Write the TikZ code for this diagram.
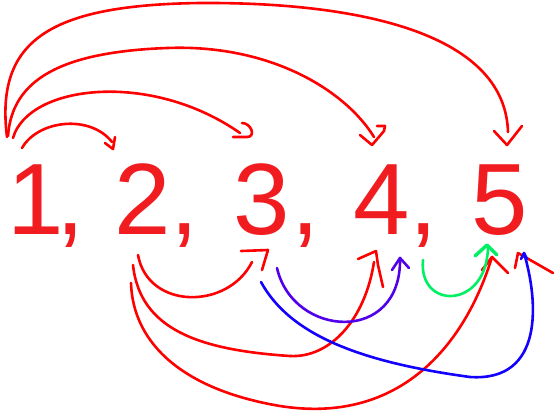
\documentclass[tikz,border=0pt]{standalone}
\usepackage{fontspec}
\setmainfont{Liberation Sans}
\usetikzlibrary{calc}

\definecolor{numred}{RGB}{240,28,32}
\definecolor{penred}{RGB}{255,0,0}
\definecolor{penblue}{RGB}{20,0,255}
\definecolor{penviolet}{RGB}{80,0,235}
\definecolor{pengreen}{RGB}{0,240,100}

\begin{document}
\begin{tikzpicture}[
  x=1pt, y=-1pt,
  num/.style={anchor=base west, inner sep=0pt, text=numred,
              font=\fontsize{101.4}{110}\selectfont},
  pen/.style={line width=2.6pt, line cap=round, line join=round},
  redpen/.style={pen, draw=penred},
  bluepen/.style={pen, draw=penblue},
  violetpen/.style={pen, draw=penviolet},
  greenpen/.style={pen, draw=pengreen}
]
\useasboundingbox (0,0) rectangle (554,416);

% --- The numbers ---
\node[num] (n1) at (7,234) {1};
\node[num] (c1) at (56,234) {,};
\node[num] (n2) at (114,234) {2};
\node[num] (c2) at (170,234) {,};
\node[num] (n3) at (233,234) {3};
\node[num] (c3) at (291,234) {,};
\node[num] (n4) at (353,234) {4};
\node[num] (c4) at (409,234) {,};
\node[num] (n5) at (471,234) {5};

% --- End points of the strokes ---
\coordinate (s12) at (22,148);  \coordinate (e12) at (112,142); \coordinate (k12) at (113,149);
\coordinate (s13) at (13,138);  \coordinate (e13) at (240,133); \coordinate (k13) at (247,137);
\coordinate (s14) at (8,136);   \coordinate (e14) at (374,137); \coordinate (k14) at (372,145);
\coordinate (s15) at (7,137);   \coordinate (e15) at (508,132); \coordinate (k15) at (507,145);
\coordinate (s23) at (138,255); \coordinate (e23) at (252,262); \coordinate (k23) at (268,250);
\coordinate (s24) at (133,265); \coordinate (e24) at (374,262); \coordinate (k24) at (376,251);
\coordinate (s25) at (131,283); \coordinate (k25) at (492,257);
\coordinate (s34) at (277,268); \coordinate (k34) at (400,258);
\coordinate (s35) at (261,282); \coordinate (k35) at (524,253);
\coordinate (s45) at (423,260); \coordinate (e45) at (488,247); \coordinate (k45) at (487,245);
\coordinate (kx) at (518,253);

% --- From 1, over the top ---
\draw[redpen] (s12) .. controls (38,120) and (90,114) .. (e12);
\draw[redpen] ($(k12)+(-8,-6)$) -- (k12) -- ($(k12)+(2,-12)$);

\draw[redpen] (s13) .. controls (28,85) and (150,70) .. (e13);
\draw[redpen] ($(k13)+(-14,0)$) -- (k13) to[out=0, in=0, looseness=1.6] ($(k13)+(-5,-14)$);

\draw[redpen] (s14) .. controls (12,80) and (60,52) .. (167,48)
  .. controls (270,44) and (345,90) .. (e14);
\draw[redpen] ($(k14)+(-12,-10)$) -- (k14) -- ($(k14)+(12,-14)$)
  -- ($(k14)+(13,-19)$) -- ($(k14)+(5,-19)$);

\draw[redpen] (s15) .. controls (-5,40) and (50,5) .. (200,3)
  .. controls (350,2) and (505,30) .. (e15);
\draw[redpen] ($(k15)+(-13,-14)$) -- (k15) -- ($(k15)+(15,-19)$);

% --- From 2, underneath ---
\draw[redpen] (s23) .. controls (148,310) and (228,310) .. (e23);
\draw[redpen] ($(k23)+(-27,1)$) -- (k23) -- ($(k23)+(-6,20)$);

\draw[redpen] (s24) .. controls (140,330) and (200,350) .. (290,356)
  .. controls (330,358) and (365,320) .. (e24);
\draw[redpen] ($(k24)+(-18,8)$) -- (k24) -- ($(k24)+(2,14)$) -- ($(k24)+(7,36)$);

\draw[redpen] (s25) .. controls (133,345) and (185,390) .. (280,406)
  .. controls (400,425) and (465,345) .. (k25);
\draw[redpen] ($(k25)+(-10,13)$) -- (k25) -- ($(k25)+(16,16)$);

\draw[redpen] ($(kx)+(-3,15)$) -- (kx) -- ($(kx)+(35,20)$);

% --- From 3 ---
\draw[violetpen] (s34) .. controls (293,338) and (402,345) .. (k34);
\draw[violetpen] ($(k34)+(-8,12)$) -- (k34) -- ($(k34)+(9,10)$);

\draw[bluepen] (s35) .. controls (290,335) and (360,362) .. (470,377)
  .. controls (545,382) and (538,300) .. (k35);
\draw[bluepen] ($(k35)+(-3,6)$) -- (k35) -- ($(k35)+(3,6)$);

% --- From 4 ---
\draw[greenpen] (s45) .. controls (418,310) and (487,310) .. (e45);
\draw[greenpen, line width=3.4pt] ($(k45)+(-12,11)$) -- (k45) -- ($(k45)+(10,10)$);

\end{tikzpicture}
\end{document}
